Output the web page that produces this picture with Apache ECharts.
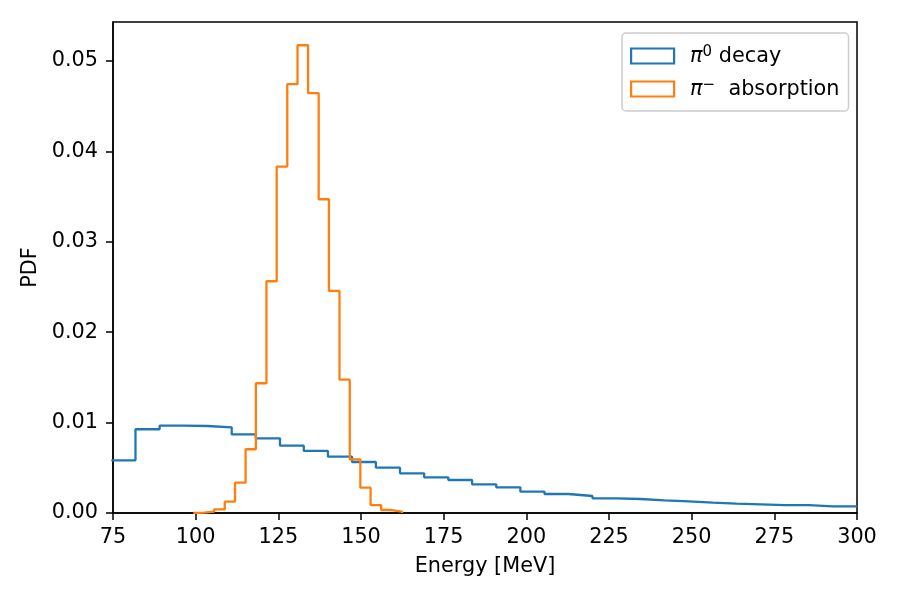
<!DOCTYPE html>
<html>
<head>
<meta charset="utf-8">
<script src="https://cdn.jsdelivr.net/npm/echarts@6/dist/echarts.min.js"></script>
<style>
  html, body { margin: 0; padding: 0; background: #fff; }
  #chart { width: 900px; height: 600px; }
</style>
</head>
<body>
<div id="chart"></div>
<script>
  // pi0 decay histogram (bin edges in MeV, PDF per bin)
  const decayEdges = [74.5, 81.8, 89.1, 96.4, 103.6, 110.9, 118.2, 125.5, 132.7, 140.0, 147.3,
    154.5, 161.8, 169.1, 176.4, 183.6, 190.9, 198.2, 205.5, 212.7, 220.0, 227.3, 234.5, 241.8,
    249.1, 256.4, 263.6, 270.9, 278.2, 285.5, 292.7, 300.0];
  const decayValues = [0.00583, 0.00926, 0.00966, 0.00962, 0.00948, 0.0087, 0.00826, 0.00745,
    0.00686, 0.00623, 0.00564, 0.00501, 0.00439, 0.00395, 0.00365, 0.00317, 0.00284, 0.00236,
    0.0021, 0.00188, 0.00162, 0.00155, 0.0014, 0.00129, 0.00114, 0.00103, 0.00096, 0.00088,
    0.00088, 0.00074, 0.00074];

  // pi- absorption histogram
  const absorptionEdges = [99.3, 102.5, 105.6, 108.8, 111.9, 115.1, 118.2, 121.4, 124.5, 127.7,
    130.8, 134.0, 137.2, 140.3, 143.5, 146.6, 149.8, 152.9, 156.1, 159.2, 162.4];
  const absorptionValues = [0.00005, 0.00015, 0.0004, 0.00125, 0.00335, 0.00705, 0.01435,
    0.02563, 0.03831, 0.04742, 0.05173, 0.04643, 0.0347, 0.02456, 0.01475, 0.00594, 0.0028,
    0.00088, 0.00033, 0.00015];

  const xTicks = [75, 100, 125, 150, 175, 200, 225, 250, 275, 300];
  const yTicks = [0, 0.01, 0.02, 0.03, 0.04, 0.05];

  const FONT = "DejaVu Sans";
  const FS = 20.8;

  // outline of a step histogram; the ends that fall outside the axes are left open
  function stepOutline(edges, values, closeLeft, closeRight) {
    const pts = closeLeft ? [[edges[0], 0]] : [];
    values.forEach((v, i) => {
      pts.push([edges[i], v], [edges[i + 1], v]);
    });
    if (closeRight) {
      pts.push([edges[edges.length - 1], 0]);
    }
    return pts;
  }

  const chart = echarts.init(document.getElementById("chart"));
  chart.setOption({
    animation: false,
    textStyle: { fontFamily: FONT },
    grid: {
      left: 113,
      right: 43,
      top: 22,
      bottom: 87,
      show: true,
      borderColor: "#000",
      borderWidth: 1.5,
    },
    legend: {
      orient: "vertical",
      left: 622,
      top: 33,
      padding: [12, 9, 11, 8],
      itemWidth: 43,
      itemHeight: 15,
      itemGap: 11,
      backgroundColor: "rgba(255,255,255,0.8)",
      borderColor: "#cccccc",
      borderWidth: 1.5,
      borderRadius: 4,
      data: [
        {
          name: "decay",
          icon: "rect",
          itemStyle: { color: "rgba(255,255,255,0)", borderColor: "#1f77b4", borderWidth: 2.2 },
        },
        {
          name: "absorption",
          icon: "rect",
          itemStyle: { color: "rgba(255,255,255,0)", borderColor: "#ff7f0e", borderWidth: 2.2 },
        },
      ],
      formatter: (name) =>
        name === "decay"
          ? "{pi|π}{sup|0}{t| decay}"
          : "{pi|π}{sup|−}{t|  absorption}",
      textStyle: {
        color: "#000",
        fontSize: FS,
        lineHeight: 26,
        padding: [0, 0, 0, 11],
        rich: {
          pi: { fontFamily: FONT, fontSize: FS, fontStyle: "italic", lineHeight: 22, verticalAlign: "bottom" },
          sup: { fontFamily: FONT, fontSize: 15, verticalAlign: "top", lineHeight: 15 },
          t: { fontFamily: FONT, fontSize: FS, lineHeight: 22, verticalAlign: "bottom" },
        },
      },
    },
    xAxis: {
      type: "value",
      min: 75,
      max: 300,
      interval: 25,
      name: "Energy [MeV]",
      nameLocation: "middle",
      nameGap: 43,
      nameTextStyle: { color: "#000", fontSize: FS, fontFamily: FONT },
      axisLine: { show: true, lineStyle: { color: "#000", width: 1.5 } },
      axisTick: { show: true, length: 7, lineStyle: { color: "#000", width: 1.5 }, customValues: xTicks },
      axisLabel: { color: "#000", fontSize: FS, margin: 14, customValues: xTicks },
      splitLine: { show: false },
    },
    yAxis: {
      type: "value",
      min: 0,
      max: 0.0543,
      interval: 0.01,
      name: "PDF",
      nameLocation: "middle",
      nameGap: 70,
      nameTextStyle: { color: "#000", fontSize: FS, fontFamily: FONT },
      axisLine: { show: true, lineStyle: { color: "#000", width: 1.5 } },
      axisTick: { show: true, length: 7, lineStyle: { color: "#000", width: 1.5 }, customValues: yTicks },
      axisLabel: {
        color: "#000",
        fontSize: FS,
        margin: 15,
        customValues: yTicks,
        formatter: (v) => v.toFixed(2),
      },
      splitLine: { show: false },
    },
    series: [
      {
        name: "decay",
        type: "line",
        data: stepOutline(decayEdges, decayValues, false, false),
        showSymbol: false,
        symbol: "none",
        clip: true,
        color: "#1f77b4",
        lineStyle: { color: "#1f77b4", width: 2.3 },
      },
      {
        name: "absorption",
        type: "line",
        data: stepOutline(absorptionEdges, absorptionValues, true, true),
        showSymbol: false,
        symbol: "none",
        clip: true,
        color: "#ff7f0e",
        lineStyle: { color: "#ff7f0e", width: 2.3 },
      },
    ],
  });
</script>
</body>
</html>
